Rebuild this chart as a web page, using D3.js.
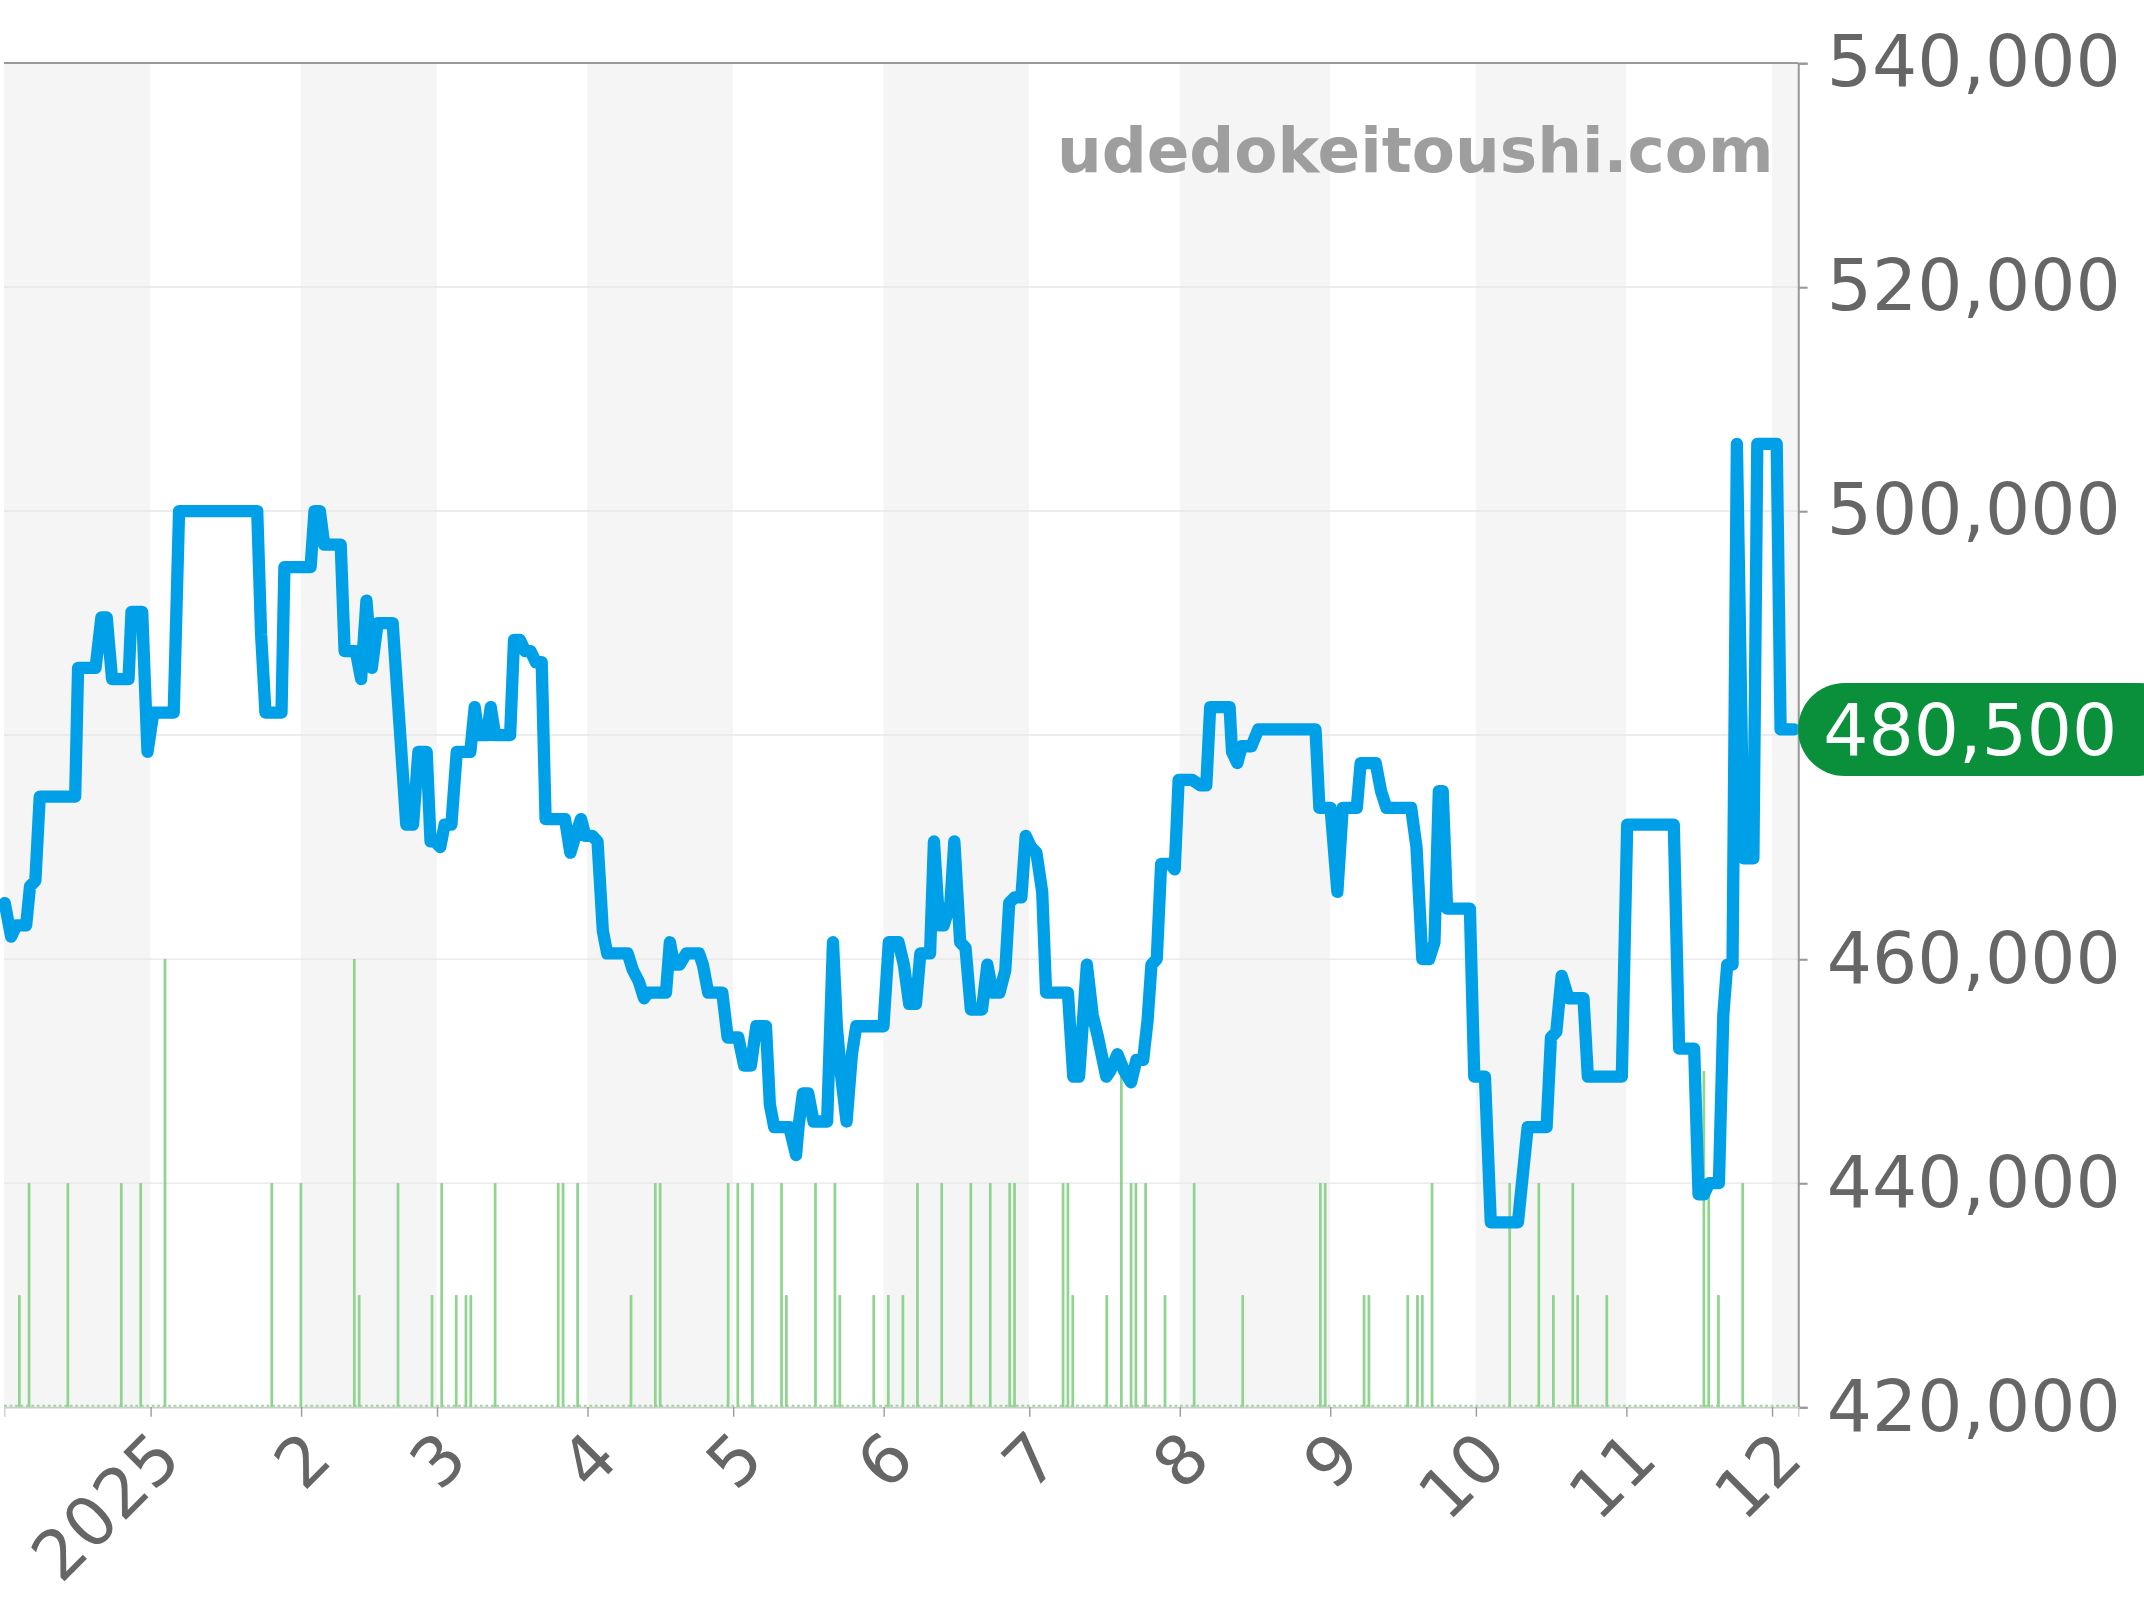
<!DOCTYPE html>
<html>
<head>
<meta charset="utf-8">
<script src="https://cdn.jsdelivr.net/npm/d3@7"></script>
<style>
  html, body { margin: 0; padding: 0; background: #fff; }
  svg { display: block; font-family: "DejaVu Sans", sans-serif; }
</style>
</head>
<body>
<svg id="chart" width="2144" height="1600" viewBox="0 0 1568 1170"></svg>
<script>
// days counted from 2025-01-01 (negative = December 2024)
var lineDays = [-30,-28.7,-27.6,-25.6,-24.8,-23.7,-22.8,-15.5,-14.9,-11.3,-10.1,-9,-7.9,-4.5,-3.9,-1.7,-0.6,0.6,4.8,5.9,
  22,22.8,23.7,27,27.6,33,33.8,34.9,35.8,39.2,40,42.3,43.4,44.5,45.6,46.8,49.9,52.7,54.1,55.2,56.9,57.7,58.6,59.7,60.6,62,63.1,
  65.9,66.8,67.6,69.3,70.1,71,74.1,74.9,76.1,77.2,78.3,79.4,80.6,81.4,85.4,86.5,87.9,88.7,89.6,91,92.1,93.2,94.1,98.3,99.4,
  100.6,101.7,102.5,103.7,105.4,106.2,107,107.9,109,110.4,113,113.8,114.9,117.8,118.9,121.1,122.3,123.7,124.8,126.8,127.6,
  128.5,131.6,133,133.5,134.4,135.5,136.6,139.4,140.6,141.4,142.3,143.4,144.5,145.4,151,152.1,154.1,155.2,156.3,157.7,158.6,
  160.6,161.4,162.5,163.4,164.8,165.6,166.8,167.9,169,171.3,172.4,173.5,174.9,176.1,176.9,178,179.4,180.3,181.4,182.5,183.7,
  184.5,189,190.1,191.3,192.9,194.1,195.2,196.9,197.7,199.2,200.6,202,203.1,204.5,205.4,206.2,207.3,208.2,210.1,211,211.8,
  214.6,216.3,217.5,218.3,222.3,222.8,223.9,224.8,226.8,228.2,240,240.8,242.3,243.1,244.5,245.6,248.5,249.3,252.4,253.5,254.6,
  259.7,260.8,262,263.4,264.5,265.4,266.2,267.1,268.2,271.8,272.7,274.9,276.1,281.7,283.7,287.6,288.5,289.6,290.7,292.1,295.2,
  296.1,297.5,303.1,304.2,313.8,314.9,318,318.9,320,321.1,323.1,324,324.8,325.9,326.8,328.2,330.2,331,335,335.8,338.6];
var linePrices = [465000,462000,463000,463000,466500,467000,474500,474500,486000,486000,490500,490500,485000,485000,491000,491000,478500,482000,482000,500000,
  500000,489000,482000,482000,495000,495000,500000,500000,497000,497000,487500,487500,485000,492000,486000,490000,490000,472000,472000,478500,478500,470500,470500,470000,472000,472000,
  478500,478500,482500,480000,480000,482500,480000,480000,488500,488500,487500,487500,486500,486500,472500,472500,469500,471500,472500,471000,471000,470500,462500,460500,460500,
  459000,458000,456500,457000,457000,457000,457000,461500,459500,459500,460500,460500,459500,457000,457000,453000,453000,450500,450500,454000,454000,447000,
  445000,445000,442500,445000,448000,448000,445500,445500,461500,454000,449500,445500,451500,454000,454000,461500,461500,459500,456000,456000,460500,
  460500,470500,463000,463000,465000,470500,461500,461000,455500,455500,459500,457000,457000,459000,465000,465500,465500,471000,470000,469500,466000,
  457000,457000,449500,449500,459500,455000,453000,449500,450000,451500,450000,449000,451000,451000,454500,459500,460000,468500,468500,468000,476000,
  476000,475500,475500,482500,482500,478500,477500,479000,479000,480500,480500,473500,473500,473500,466000,473500,473500,477500,477500,475000,
  473500,473500,470000,460000,460000,461500,475000,475000,464500,464500,464500,449500,449500,436500,436500,445000,445000,453000,453500,458500,456500,456500,
  449500,449500,449500,472000,472000,452000,452000,439000,439000,440000,440000,455000,459500,459500,506000,469000,469000,506000,506000,480500,480500];

var barDays = [-27,-25,-17,-6,-2,3,25,31,42,43,51,58,60,63,65,66,71,84,85,88,99,104,105,119,121,124,130,131,137,141,142,149,152,155,158,163,
  169,173,177,178,188,189,190,197,200,202,203,205,209,215,225,241,242,250,251,259,261,262,264,280,286,289,293,294,300,320,321,323,328];
var barCounts = [1,2,2,2,2,4,2,2,4,1,2,1,2,1,1,1,2,2,2,2,1,2,2,2,2,2,2,1,2,2,1,1,1,1,2,2,
  2,2,2,2,2,2,1,1,3,2,2,2,1,2,1,2,2,1,1,1,1,1,2,2,2,1,2,1,1,3,2,1,2];

var yTicks = [420000, 440000, 460000, 480000, 500000, 520000, 540000];
var monthLabels = ["2025","2","3","4","5","6","7","8","9","10","11","12"];
var lastPrice = 480500;

var jan1 = Date.UTC(2025, 0, 1);
function day(d) { return new Date(jan1 + d * 864e5); }

var L = 3, R = 1315, T = 46, B = 1029;
var svg = d3.select("#chart");

var x = d3.scaleUtc().domain([day(-30.14), day(339.4)]).range([L, R]);
var y = d3.scaleLinear().domain([420000, 540000]).range([B, T]);
var yBar = d3.scaleLinear().domain([0, 12]).range([B, T]);

// alternating month bands
var months = d3.utcMonth.range(new Date(Date.UTC(2024, 11, 1)), new Date(Date.UTC(2026, 0, 1)));
svg.append("g").selectAll("rect").data(months).join("rect")
  .attr("x", function(m) { return Math.max(L, x(m)); })
  .attr("width", function(m) { var a = Math.max(L, x(m)), b = Math.min(R, x(d3.utcMonth.offset(m, 1))); return Math.max(0, b - a); })
  .attr("y", T).attr("height", B - T)
  .attr("fill", function(m, i) { return i % 2 === 0 ? "#f5f5f5" : "#fff"; });

// grid
svg.append("g").selectAll("line").data(yTicks).join("line")
  .attr("x1", L).attr("x2", R).attr("y1", function(d) { return y(d); }).attr("y2", function(d) { return y(d); })
  .attr("stroke", function(d) { return d === 540000 ? "#999" : "#e6e6e6"; }).attr("stroke-width", function(d) { return d === 540000 ? 1.5 : 1; });

// volume bars
svg.append("line").attr("x1", L).attr("x2", R).attr("y1", B - 1).attr("y2", B - 1)
  .attr("stroke", "#9bd69b").attr("stroke-width", 1.5).attr("stroke-dasharray", "2,2");
svg.append("g").selectAll("line").data(barDays).join("line")
  .attr("x1", function(d) { return x(day(d)); }).attr("x2", function(d) { return x(day(d)); })
  .attr("y1", B).attr("y2", function(d, i) { return yBar(barCounts[i]); })
  .attr("stroke", "#8fd48f").attr("stroke-width", 2);

// watermark
svg.append("text").attr("x", 1297).attr("y", 126).attr("text-anchor", "end")
  .attr("font-size", 46).attr("font-weight", "bold").attr("fill", "#9e9e9e").text("udedokeitoushi.com");

// price line
var line = d3.line().x(function(d, i) { return x(day(d)); }).y(function(d, i) { return y(linePrices[i]); });
svg.append("path").attr("d", line(lineDays)).attr("fill", "none")
  .attr("stroke", "#00a0e9").attr("stroke-width", 9).attr("stroke-linejoin", "round").attr("stroke-linecap", "round");

// right axis
var yAxis = d3.axisRight(y).tickValues(yTicks).tickSize(7).tickPadding(14).tickFormat(d3.format(","));
var ga = svg.append("g").attr("transform", "translate(" + R + ",0)").call(yAxis);
ga.select(".domain").attr("stroke", "#999").attr("stroke-width", 1.5);
ga.selectAll(".tick line").attr("stroke", "#999").attr("stroke-width", 1.5);
ga.selectAll(".tick text").attr("font-size", 52).attr("fill", "#666").attr("font-family", "DejaVu Sans");

// bottom axis
var monthTicks = d3.utcMonth.range(new Date(Date.UTC(2025, 0, 1)), new Date(Date.UTC(2025, 11, 2)));
var xAxis = d3.axisBottom(x).tickValues(monthTicks).tickSize(7).tickFormat(function(d, i) { return monthLabels[i]; });
var gx = svg.append("g").attr("transform", "translate(0," + B + ")").call(xAxis);
gx.select(".domain").attr("stroke", "#ccc");
gx.selectAll(".tick line").attr("stroke", "#999");
gx.selectAll(".tick text").attr("font-size", 50).attr("fill", "#666").attr("font-family", "DejaVu Sans")
  .attr("text-anchor", "end").attr("dy", null).attr("y", 0)
  .attr("transform", "translate(24,40) rotate(-45)");

// last price tag
var ly = y(lastPrice);
svg.append("rect").attr("x", R).attr("y", ly - 34).attr("width", 1568 - R + 30).attr("height", 68)
  .attr("rx", 34).attr("fill", "#0a8f3a");
svg.append("text").attr("x", 1441).attr("y", ly).attr("dy", "0.36em").attr("text-anchor", "middle")
  .attr("font-size", 52).attr("fill", "#fff").text(d3.format(",")(lastPrice));
</script>
</body>
</html>
